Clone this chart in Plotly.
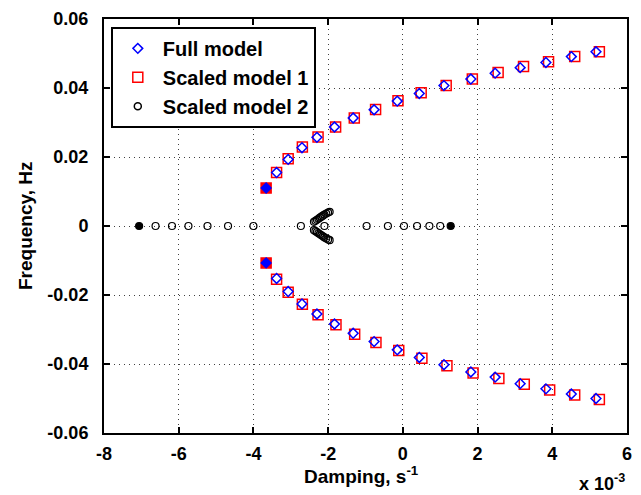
import plotly.graph_objects as go

# ---------------- data (damping in units of 1e-3 s^-1, frequency in Hz) ----------------
full_x_upper = [-3.66, -3.38, -3.07, -2.70, -2.30, -1.83, -1.33, -0.77, -0.15, 0.44, 1.10, 1.82, 2.47, 3.14, 3.83, 4.51, 5.17]
full_y_upper = [0.0110, 0.0155, 0.0193, 0.0227, 0.0257, 0.0287, 0.0313, 0.0337, 0.0362, 0.0384, 0.0407, 0.0426, 0.0443, 0.0459, 0.0474, 0.0491, 0.0505]
full_x_lower = [-3.66, -3.38, -3.07, -2.70, -2.30, -1.83, -1.33, -0.77, -0.15, 0.44, 1.10, 1.82, 2.47, 3.14, 3.83, 4.51, 5.17]
full_y_lower = [-0.0107, -0.0152, -0.0190, -0.0226, -0.0255, -0.0284, -0.0311, -0.0335, -0.0359, -0.0381, -0.0402, -0.0423, -0.0438, -0.0457, -0.0472, -0.0487, -0.0500]

sm1_x_upper = [-3.66, -3.38, -3.07, -2.69, -2.27, -1.80, -1.30, -0.73, -0.13, 0.49, 1.16, 1.86, 2.55, 3.23, 3.90, 4.60, 5.26]
sm1_y_upper = [0.0110, 0.0155, 0.0195, 0.0229, 0.0258, 0.0287, 0.0313, 0.0338, 0.0363, 0.0386, 0.0407, 0.0426, 0.0445, 0.0462, 0.0476, 0.0491, 0.0505]
sm1_x_lower = [-3.66, -3.38, -3.07, -2.69, -2.27, -1.79, -1.29, -0.72, -0.11, 0.51, 1.18, 1.88, 2.57, 3.25, 3.93, 4.60, 5.26]
sm1_y_lower = [-0.0107, -0.0154, -0.0192, -0.0227, -0.0257, -0.0286, -0.0314, -0.0338, -0.0361, -0.0383, -0.0405, -0.0426, -0.0442, -0.0459, -0.0475, -0.0490, -0.0503]

sm2_x_real = [-7.06, -6.62, -6.18, -5.74, -5.23, -4.68, -4.00, -2.73, -2.10, -0.97, -0.40, 0.03, 0.38, 0.71, 1.00, 1.28]
sm2_y_real = [0, 0, 0, 0, 0, 0, 0, 0, 0, 0, 0, 0, 0, 0, 0, 0]
sm2_x_arm_up = [-2.38, -2.34, -2.30, -2.26, -2.22, -2.18, -2.14, -2.10, -2.05, -2.00, -1.96]
sm2_y_arm_up = [0.0012, 0.0015, 0.0018, 0.0021, 0.0024, 0.0027, 0.0030, 0.0033, 0.0036, 0.0039, 0.0041]
sm2_x_arm_dn = [-2.38, -2.34, -2.30, -2.26, -2.22, -2.18, -2.14, -2.10, -2.05, -2.00, -1.96]
sm2_y_arm_dn = [-0.0012, -0.0015, -0.0018, -0.0021, -0.0024, -0.0027, -0.0030, -0.0033, -0.0036, -0.0039, -0.0041]

x_ticks = [-8, -6, -4, -2, 0, 2, 4, 6]
y_ticks = [-0.06, -0.04, -0.02, 0, 0.02, 0.04, 0.06]
y_tick_labels = ["-0.06", "-0.04", "-0.02", "0", "0.02", "0.04", "0.06"]
series_names = ["Full model", "Scaled model 1", "Scaled model 2"]

FONT = "Liberation Sans, Arial, Helvetica, sans-serif"

fig = go.Figure()

# Scaled model 1 (red squares): first point of each branch filled
sm1_x = sm1_x_upper + sm1_x_lower
sm1_y = sm1_y_upper + sm1_y_lower
sm1_sym = ["square" if i in (0, len(sm1_x_upper)) else "square-open" for i in range(len(sm1_x))]
fig.add_trace(go.Scatter(x=sm1_x, y=sm1_y, mode="markers", name=series_names[1], showlegend=False,
                         marker=dict(symbol=sm1_sym, size=10, color="#ff0000", line=dict(width=1.5, color="#ff0000"))))
# Full model (blue diamonds)
full_x = full_x_upper + full_x_lower
full_y = full_y_upper + full_y_lower
full_sym = ["diamond" if i in (0, len(full_x_upper)) else "diamond-open" for i in range(len(full_x))]
fig.add_trace(go.Scatter(x=full_x, y=full_y, mode="markers", name=series_names[0], showlegend=False,
                         marker=dict(symbol=full_sym, size=7.5, color="#0000ff", line=dict(width=1.5, color="#0000ff"))))
# Scaled model 2 (black circles): end points filled
sm2_x = sm2_x_real + sm2_x_arm_up + sm2_x_arm_dn
sm2_y = sm2_y_real + sm2_y_arm_up + sm2_y_arm_dn
sm2_sym = ["circle" if i in (0, len(sm2_x_real) - 1) else "circle-open" for i in range(len(sm2_x))]
fig.add_trace(go.Scatter(x=sm2_x, y=sm2_y, mode="markers", name=series_names[2], showlegend=False,
                         marker=dict(symbol=sm2_sym, size=7, color="#000000", line=dict(width=1.2, color="#000000"))))

# legend-only entries with open symbols
legend_specs = [("diamond-open", 7.5, "#0000ff"),
                ("square-open", 10, "#ff0000"),
                ("circle-open", 7, "#000000")]
for name, (sym, sz, col) in zip(series_names, legend_specs):
    fig.add_trace(go.Scatter(x=[None], y=[None], mode="markers", name=name, showlegend=True,
                             marker=dict(symbol=sym, size=sz, color=col, line=dict(width=1.5, color=col))))

axis_common = dict(
    showline=True, linewidth=2, linecolor="black", mirror="allticks",
    ticks="inside", ticklen=6, tickwidth=2, tickcolor="black",
    showgrid=True, gridcolor="rgba(0,0,0,0.75)", gridwidth=1, griddash="1px,4px",
    zeroline=False,
    tickfont=dict(family=FONT, size=18, color="black", weight="bold"),
)

fig.update_xaxes(range=[-8, 6], tickvals=x_ticks, ticktext=[str(v) for v in x_ticks],
                 ticklabelstandoff=3, **axis_common)
fig.update_yaxes(range=[-0.06, 0.06], tickvals=y_ticks, ticktext=y_tick_labels,
                 ticklabelstandoff=10, **axis_common)

fig.update_layout(
    width=641, height=495,
    margin=dict(l=104, r=9, t=14, b=62),
    plot_bgcolor="white", paper_bgcolor="white",
    font=dict(family=FONT, size=18, color="black"),
    legend=dict(x=0.013, y=0.981, xanchor="left", yanchor="top",
                bgcolor="white", bordercolor="black", borderwidth=2,
                font=dict(family=FONT, size=20, color="black", weight="bold"),
                itemwidth=40, traceorder="normal"),
    annotations=[
        dict(text="Damping, s<sup>-1</sup>", x=0.5, y=0, xref="paper", yref="paper",
             xanchor="center", yanchor="top", yshift=-28, xshift=-4, showarrow=False,
             font=dict(family=FONT, size=19, color="black", weight="bold")),
        dict(text="Frequency, Hz", x=0, y=0.5, xref="paper", yref="paper",
             xanchor="center", yanchor="middle", xshift=-79, textangle=-90, showarrow=False,
             font=dict(family=FONT, size=19, color="black", weight="bold")),
        dict(text="x 10<sup>-3</sup>", x=1, y=0, xref="paper", yref="paper",
             xanchor="right", yanchor="top", yshift=-36, showarrow=False,
             font=dict(family=FONT, size=18, color="black", weight="bold")),
    ],
)

fig.write_html("out.html", config={"displayModeBar": False},
               post_script="document.body.style.margin='0px';")
